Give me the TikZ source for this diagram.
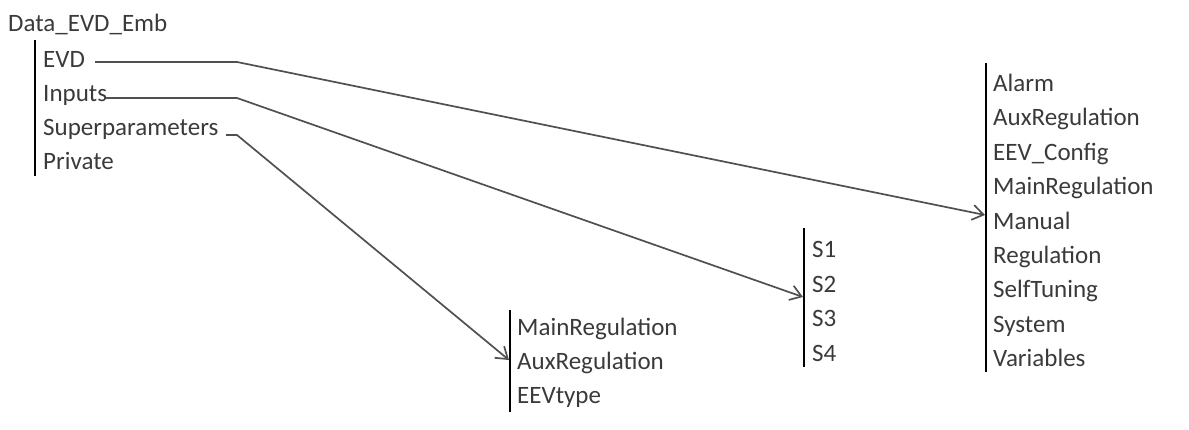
\documentclass[tikz,border=0pt]{standalone}
\usepackage{fontspec}
\setmainfont{Carlito}
\usetikzlibrary{arrows.meta}
\definecolor{txt}{HTML}{3A3A3A}
\definecolor{conn}{HTML}{505050}
\tikzset{
  item/.style={anchor=base west, inner sep=0pt, text=txt, font=\fontsize{25}{30}\selectfont},
  bar/.style={line width=2pt, black},
  link/.style={line width=1.7pt, conn, -{Straight Barb[length=11pt,width=15pt,line width=1.7pt]}},
}
\begin{document}
\begin{tikzpicture}[x=1pt,y=-1pt]
\useasboundingbox (0,0) rectangle (1189,429);
% left tree
\node[item] (root) at (8,31) {Data\_EVD\_Emb};
\coordinate (lt) at (35,40); \coordinate (lb) at (35,176);
\draw[bar] (lt) -- (lb);
\node[item] (evd) at (43,67) {EVD};
\node[item] (inputs) at (43,101) {Inputs};
\node[item] (super) at (43,135) {Superparameters};
\node[item] (private) at (43,169) {Private};
% right list
\coordinate (rt) at (986,63); \coordinate (rb) at (986,372);
\draw[bar] (rt) -- (rb);
\node[item] (r1) at (993,91.5) {Alarm};
\node[item] (r2) at (993,125.9) {AuxRegulation};
\node[item] (r3) at (993,160.3) {EEV\_Config};
\node[item] (r4) at (993,194.7) {MainRegulation};
\node[item] (r5) at (993,229.1) {Manual};
\node[item] (r6) at (993,263.5) {Regulation};
\node[item] (r7) at (993,297.9) {SelfTuning};
\node[item] (r8) at (993,332.3) {System};
\node[item] (r9) at (993,366.7) {Variables};
% S list
\coordinate (st) at (804,228); \coordinate (sb) at (804,367);
\draw[bar] (st) -- (sb);
\node[item] (s1) at (812,257.5) {S1};
\node[item] (s2) at (812,292) {S2};
\node[item] (s3) at (812,326.5) {S3};
\node[item] (s4) at (812,361) {S4};
% bottom list
\coordinate (bt) at (510,310); \coordinate (bb) at (510,412);
\draw[bar] (bt) -- (bb);
\node[item] (b1) at (517,335) {MainRegulation};
\node[item] (b2) at (517,369) {AuxRegulation};
\node[item] (b3) at (517,403) {EEVtype};
% connectors
\coordinate (e0) at (95,62); \coordinate (e1) at (237,62); \coordinate (e2) at (985,215);
\coordinate (i0) at (105,98); \coordinate (i1) at (237,98); \coordinate (i2) at (803,297);
\coordinate (p0) at (226,135); \coordinate (p1) at (237,135); \coordinate (p2) at (509,360);
\draw[link] (e0) -- (e1) -- (e2);
\draw[link] (i0) -- (i1) -- (i2);
\draw[link] (p0) -- (p1) -- (p2);
\end{tikzpicture}
\end{document}
